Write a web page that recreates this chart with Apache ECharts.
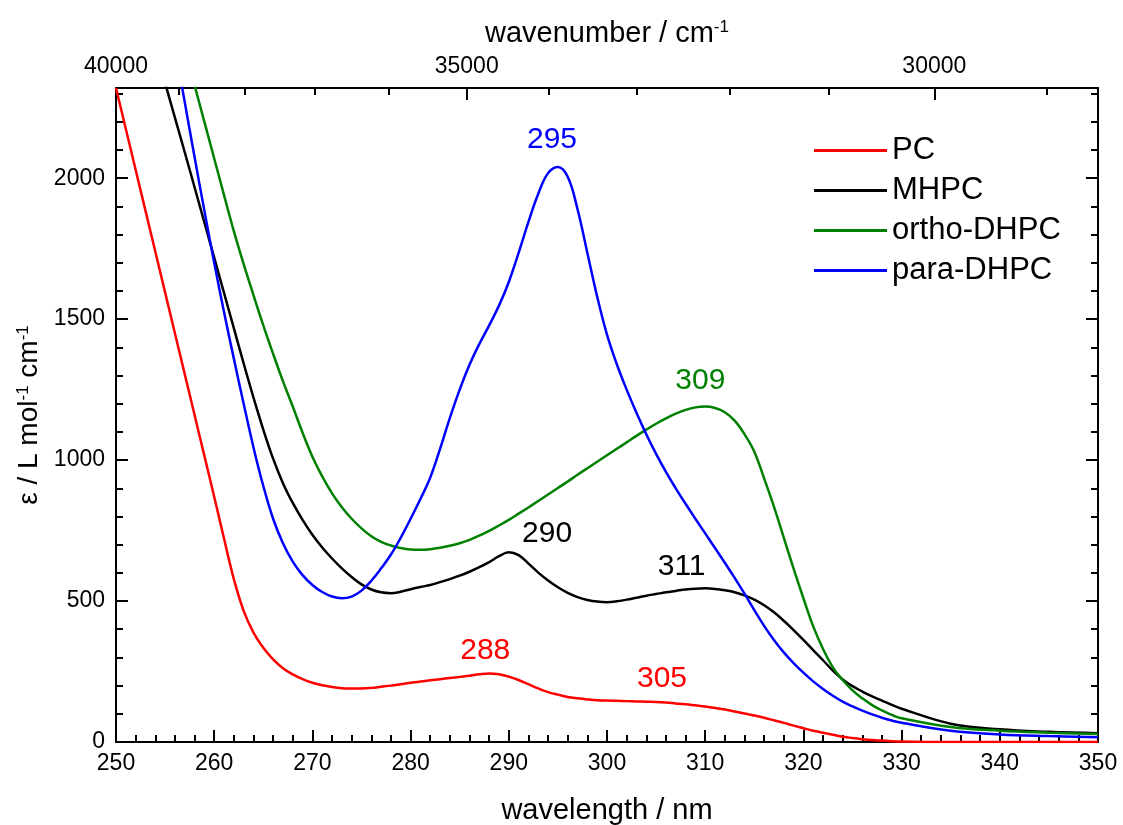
<!DOCTYPE html>
<html>
<head>
<meta charset="utf-8">
<script src="https://cdn.jsdelivr.net/npm/echarts@6/dist/echarts.min.js"></script>
<style>
  html, body { margin: 0; padding: 0; background: #fff; }
  #chart { width: 1123px; height: 825px; }
</style>
</head>
<body>
<div id="chart"></div>
<script>
// wavelength grid (nm)
const wavelength = [250, 252, 254,
  256, 257, 258, 259, 260, 261, 262, 263, 264, 265,
  266, 267, 268, 269, 270, 271, 272, 273, 274, 275,
  276, 277, 278, 279, 280, 281, 282, 283, 284, 285,
  286, 287, 288, 289, 290, 291, 292, 293, 294, 295,
  296, 297, 298, 299, 300, 301, 302, 303, 304, 305,
  306, 307, 308, 309, 310, 311, 312, 313, 314, 315,
  316, 317, 318, 319, 320, 321, 322, 323, 324, 325,
  326, 327, 328, 329, 330,
  335, 340, 345, 350]

// epsilon / L mol-1 cm-1
const pc = [2320, 2030, 1740,
  1450, 1305, 1160, 1015, 870, 722, 578, 465, 388, 334,
  293, 262, 240, 223, 210, 201, 195, 191, 190, 190,
  192, 196, 200, 205, 210, 215, 219, 223, 227, 231,
  235, 240, 243, 240, 232, 220, 205, 190, 177, 168,
  160, 155, 151, 148, 147, 146, 145, 144, 143, 142,
  140, 137, 134, 130, 126, 121, 115, 108, 101, 94,
  86, 77, 68, 58, 49, 40, 33, 26, 19, 14,
  10, 7, 5, 3, 2,
  0, 0, 0, 0]
const mhpc = [2950, 2705, 2460,
  2215, 2092, 1968, 1843, 1718, 1593, 1468, 1343, 1222, 1108,
  1005, 918, 848, 788, 735, 690, 651, 616, 585, 559,
  541, 531, 528, 533, 542, 550, 557, 567, 578, 590,
  604, 620, 638, 659, 673, 663, 633, 601, 573, 549,
  529, 514, 504, 498, 496, 499, 505, 512, 519, 525,
  531, 536, 541, 544, 545, 543, 538, 531, 520, 505,
  485, 460, 430, 397, 362, 326, 290, 253, 222, 198,
  179, 162, 147, 132, 118,
  65, 45, 36, 31]
const orthoDhpc = [3460, 3170, 2880,
  2600, 2465, 2330, 2200, 2070, 1940, 1812, 1695, 1585, 1478,
  1377, 1280, 1190, 1097, 1012, 942, 882, 833, 792, 758,
  730, 710, 697, 688, 683, 682, 684, 689, 696, 705,
  717, 732, 749, 768, 788, 810, 832, 855, 878, 901,
  924, 948, 971, 994, 1017, 1040, 1063, 1086, 1108, 1129,
  1148, 1165, 1178, 1187, 1190, 1185, 1170, 1140, 1092, 1030,
  935, 835, 725, 615, 510, 410, 330, 265, 220, 183,
  155, 131, 112, 96, 84,
  53, 40, 33, 28]
const paraDhpc = [3800, 3400, 2950,
  2470, 2270, 2075, 1885, 1700, 1525, 1360, 1200, 1045, 908,
  792, 705, 640, 592, 557, 532, 516, 510, 516, 537,
  572, 616, 665, 725, 792, 862, 938, 1040, 1150, 1250,
  1338, 1412, 1478, 1548, 1632, 1735, 1845, 1945, 2018, 2040,
  2005, 1890, 1735, 1580, 1445, 1340, 1250, 1168, 1092, 1022,
  958, 900, 845, 792, 740, 688, 636, 582, 526, 468,
  412, 362, 318, 280, 246, 215, 188, 164, 143, 126,
  111, 98, 86, 76, 68,
  40, 27, 21, 17]

const seriesNames = ['PC', 'MHPC', 'ortho-DHPC', 'para-DHPC']
const seriesColors = ['#ff0000', '#000000', '#008000', '#0000ff']
const seriesValues = [pc, mhpc, orthoDhpc, paraDhpc]

// peak annotations: text, wavelength, epsilon, series index
const peakText = ['288', '305', '290', '311', '309', '295']
const peakWl = [287.6, 305.6, 293.9, 307.6, 309.5, 294.4]
const peakEps = [325, 225, 739, 620, 1281, 2137]
const peakSeries = [0, 0, 1, 1, 2, 3]

// top axis, wavenumber / cm-1
const wnMajor = [40000, 35000, 30000]
const wnMinor = [40000, 39000, 38000, 37000, 36000, 35000, 34000, 33000, 32000, 31000, 30000, 29000]

const font = 'Liberation Sans, Arial, sans-serif'
const black = '#000'
const lineSt = { color: black, width: 2 }
const supStyle = { fontSize: 17, fontFamily: font, color: black, verticalAlign: 'top', lineHeight: 16 }

const chart = echarts.init(document.getElementById('chart'), null, { renderer: 'canvas' })

const series = seriesNames.map((name, k) => {
  const marks = []
  peakText.forEach((t, j) => {
    if (peakSeries[j] === k) marks.push({ name: t, coord: [peakWl[j], peakEps[j]] })
  })
  return {
    name: name,
    type: 'line',
    xAxisIndex: 0,
    yAxisIndex: 0,
    data: wavelength.map((w, i) => [w, seriesValues[k][i]]),
    smooth: 0.4,
    symbol: 'none',
    color: seriesColors[k],
    lineStyle: { width: 2.5, color: seriesColors[k] },
    clip: true,
    markPoint: {
      silent: true,
      symbol: 'circle',
      symbolSize: 0,
      label: {
        show: true,
        position: 'inside',
        formatter: p => p.name,
        fontSize: 30,
        fontFamily: font,
        color: seriesColors[k]
      },
      data: marks
    }
  }
})

const option = {
  animation: false,
  backgroundColor: '#fff',
  grid: { left: 116, right: 25, top: 88, bottom: 83, containLabel: false, outerBoundsMode: 'none' },
  legend: {
    data: seriesNames,
    orient: 'vertical',
    left: 809,
    top: 130,
    icon: 'rect',
    itemWidth: 73,
    itemHeight: 3,
    itemGap: 9,
    textStyle: { fontSize: 31, fontFamily: font, color: black, lineHeight: 30 }
  },
  xAxis: [
    {
      type: 'value', position: 'bottom', min: 250, max: 350, interval: 10,
      axisLine: { show: true, onZero: false, lineStyle: lineSt },
      axisTick: { inside: true, length: 12, lineStyle: lineSt },
      axisLabel: { fontSize: 23, fontFamily: font, color: black, margin: 10 },
      splitLine: { show: false },
      name: 'wavelength / nm', nameLocation: 'middle', nameGap: 54,
      nameTextStyle: { fontSize: 29, fontFamily: font, color: black }
    },
    {
      type: 'value', position: 'bottom', min: 250, max: 350, interval: 2,
      axisLine: { show: false, onZero: false },
      axisTick: { inside: true, length: 7, lineStyle: lineSt },
      axisLabel: { show: false },
      splitLine: { show: false }
    },
    {
      type: 'value', position: 'top', min: 250, max: 350,
      axisLine: { show: true, onZero: false, lineStyle: lineSt },
      axisTick: { inside: true, length: 12, lineStyle: lineSt, customValues: wnMajor.map(k => 1e7 / k) },
      axisLabel: {
        fontSize: 23, fontFamily: font, color: black, margin: 10,
        customValues: wnMajor.map(k => 1e7 / k),
        formatter: v => String(Math.round(1e7 / v / 1000) * 1000)
      },
      splitLine: { show: false },
      name: 'wavenumber / cm{sup|-1}', nameLocation: 'middle', nameGap: 40,
      nameTextStyle: { fontSize: 29, fontFamily: font, color: black, rich: { sup: supStyle } }
    },
    {
      type: 'value', position: 'top', min: 250, max: 350,
      axisLine: { show: false, onZero: false },
      axisTick: { inside: true, length: 7, lineStyle: lineSt, customValues: wnMinor.map(k => 1e7 / k) },
      axisLabel: { show: false },
      splitLine: { show: false }
    }
  ],
  yAxis: [
    {
      type: 'value', position: 'left', min: 0, max: 2320, interval: 500,
      axisLine: { show: true, onZero: false, lineStyle: lineSt },
      axisTick: { inside: true, length: 12, lineStyle: lineSt },
      axisLabel: {
        fontSize: 23, fontFamily: font, color: black, margin: 11, showMaxLabel: false,
        formatter: v => String(v)
      },
      splitLine: { show: false },
      name: 'ε / L mol{sup|-1} cm{sup|-1}', nameLocation: 'middle', nameRotate: 90, nameGap: 57,
      nameTextStyle: { fontSize: 28, fontFamily: font, color: black, rich: { sup: supStyle } }
    },
    {
      type: 'value', position: 'left', min: 0, max: 2320, interval: 100,
      axisLine: { show: false, onZero: false },
      axisTick: { inside: true, length: 7, lineStyle: lineSt },
      axisLabel: { show: false },
      splitLine: { show: false }
    },
    {
      type: 'value', position: 'right', min: 0, max: 2320, interval: 500,
      axisLine: { show: true, onZero: false, lineStyle: lineSt },
      axisTick: { inside: true, length: 12, lineStyle: lineSt },
      axisLabel: { show: false },
      splitLine: { show: false }
    },
    {
      type: 'value', position: 'right', min: 0, max: 2320, interval: 100,
      axisLine: { show: false, onZero: false },
      axisTick: { inside: true, length: 7, lineStyle: lineSt },
      axisLabel: { show: false },
      splitLine: { show: false }
    }
  ],
  series: series
}

chart.setOption(option)
</script>
</body>
</html>
